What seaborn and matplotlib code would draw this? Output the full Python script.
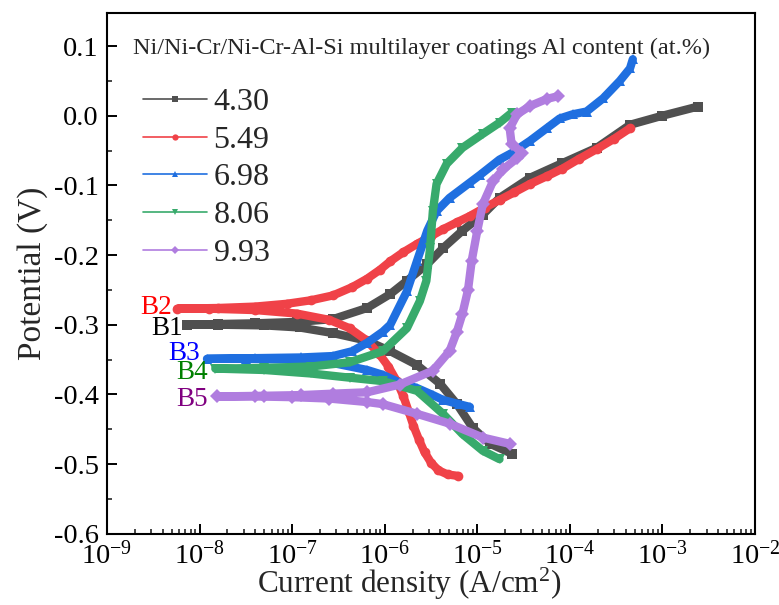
import numpy as np
import pandas as pd
import matplotlib
matplotlib.use("Agg")
import matplotlib.pyplot as plt
from matplotlib.lines import Line2D
from matplotlib.ticker import MultipleLocator, FuncFormatter, LogLocator, LogFormatterMathtext
import seaborn as sns

# Al content (at.%) of each coating and its sample tag
al_content = ["4.30", "5.49", "6.98", "8.06", "9.93"]
sample_tags = ["B1", "B2", "B3", "B4", "B5"]

# Potentiodynamic polarization curves: log10 of |current density| (A/cm^2) and potential (V),
# scanned from the cathodic end through Ecorr to the anodic end
b1_logi = [-4.63, -4.86, -5.05, -5.22, -5.40, -5.65, -5.94, -6.19, -6.56, -6.92, -7.30, -7.80, -8.14,
           -7.80, -7.40, -6.95, -6.56, -6.19, -5.94, -5.76, -5.54, -5.37, -5.16, -4.94, -4.76,
           -4.43, -4.08, -3.71, -3.35, -3.00, -2.62]
b1_pot = [-0.485, -0.471, -0.448, -0.414, -0.385, -0.358, -0.338, -0.323, -0.312, -0.304, -0.301, -0.300, -0.300,
          -0.299, -0.298, -0.296, -0.292, -0.276, -0.256, -0.237, -0.213, -0.190, -0.165, -0.142, -0.118,
          -0.089, -0.068, -0.046, -0.013, 0.000, 0.013]

b2_logi = [-5.21, -5.32, -5.42, -5.50, -5.57, -5.63, -5.69, -5.74, -5.80, -5.87, -5.96, -6.06, -6.20, -6.38,
           -6.60, -6.95, -7.40, -7.90, -8.24,
           -7.80, -7.40, -7.06, -6.80, -6.56, -6.35, -6.19, -6.05, -5.94, -5.80, -5.65, -5.50, -5.37,
           -5.22, -5.08, -4.92, -4.76, -4.60, -4.43, -4.25, -4.08, -3.90, -3.71, -3.52, -3.35]
b2_pot = [-0.517, -0.515, -0.509, -0.498, -0.483, -0.465, -0.445, -0.425, -0.402, -0.381, -0.360, -0.342, -0.322,
          -0.305, -0.293, -0.284, -0.279, -0.277, -0.277,
          -0.276, -0.274, -0.270, -0.265, -0.258, -0.246, -0.234, -0.221, -0.209, -0.196, -0.184, -0.173,
          -0.163, -0.153, -0.144, -0.132, -0.121, -0.110, -0.098, -0.087, -0.076, -0.062, -0.048, -0.033, -0.018]

b3_logi = [-5.08, -5.20, -5.37, -5.48, -5.65, -5.84, -6.02, -6.19, -6.56, -7.00, -7.50, -7.92,
           -7.40, -6.90, -6.56, -6.35, -6.19, -6.02, -5.94, -5.76, -5.65, -5.54, -5.44, -5.30, -5.08,
           -4.97, -4.76, -4.62, -4.43, -4.25, -4.11, -3.97, -3.82, -3.64, -3.46, -3.35, -3.32]
b3_pot = [-0.418, -0.414, -0.408, -0.401, -0.391, -0.383, -0.372, -0.365, -0.355, -0.350, -0.349, -0.349,
          -0.348, -0.347, -0.345, -0.338, -0.326, -0.310, -0.300, -0.252, -0.208, -0.165, -0.137, -0.118,
          -0.096, -0.085, -0.063, -0.053, -0.036, -0.018, -0.004, 0.002, 0.006, 0.025, 0.050, 0.068, 0.081]

b4_logi = [-4.76, -4.94, -5.16, -5.37, -5.65, -6.02, -6.38, -6.80, -7.30, -7.83,
           -7.30, -6.80, -6.38, -6.02, -5.76, -5.62, -5.55, -5.51, -5.48, -5.44, -5.33, -5.16,
           -4.94, -4.76, -4.63]
b4_pot = [-0.493, -0.481, -0.457, -0.428, -0.395, -0.381, -0.376, -0.370, -0.365, -0.363,
          -0.362, -0.360, -0.354, -0.338, -0.305, -0.266, -0.237, -0.190, -0.137, -0.098, -0.069, -0.046,
          -0.026, -0.010, 0.004]

b5_logi = [-4.65, -4.94, -5.30, -5.65, -6.02, -6.19, -6.60, -7.00, -7.40, -7.81,
           -7.30, -6.90, -6.56, -6.19, -5.84, -5.48, -5.30, -5.22, -5.16, -5.10, -5.06, -5.00,
           -4.94, -4.83, -4.72, -4.57, -4.52, -4.63, -4.65, -4.57, -4.43, -4.25, -4.13]
b5_pot = [-0.471, -0.462, -0.442, -0.428, -0.414, -0.411, -0.406, -0.404, -0.403, -0.403,
          -0.402, -0.401, -0.399, -0.397, -0.386, -0.366, -0.338, -0.310, -0.284, -0.250, -0.208, -0.165,
          -0.127, -0.094, -0.077, -0.061, -0.053, -0.040, -0.018, 0.002, 0.014, 0.024, 0.028]

curves_logi = [b1_logi, b2_logi, b3_logi, b4_logi, b5_logi]
curves_pot = [b1_pot, b2_pot, b3_pot, b4_pot, b5_pot]

line_colors = ["#505050", "#f04248", "#1f6fe0", "#38aa6c", "#b07ddf"]
tag_colors = ["#000000", "#ff0000", "#0000ff", "#008000", "#800080"]
marker_shapes = ["s", "o", "^", "v", "D"]

# Sample tag positions next to each Ecorr plateau (log10 current, potential)
tag_logi = [-8.18, -8.30, -8.00, -7.91, -7.91]
tag_pot = [-0.305, -0.276, -0.341, -0.369, -0.408]

rows = []
for label, li, pot in zip(al_content, curves_logi, curves_pot):
    for k, (a, b) in enumerate(zip(li, pot)):
        rows.append({"Al content": label, "step": k, "current": 10.0 ** a, "potential": b})
df = pd.DataFrame(rows)

sns.set_theme(style="ticks")
plt.rcParams["font.family"] = ["Liberation Serif", "DejaVu Serif"]
plt.rcParams["mathtext.fontset"] = "custom"
plt.rcParams["mathtext.rm"] = "Liberation Serif"
plt.rcParams["mathtext.it"] = "Liberation Serif:italic"
plt.rcParams["mathtext.bf"] = "Liberation Serif:bold"
plt.rcParams["axes.unicode_minus"] = False

fig, ax = plt.subplots(figsize=(7.79, 6.05), dpi=100)
fig.subplots_adjust(left=107 / 779, right=755 / 779, bottom=1 - 533.7 / 605, top=1 - 13.3 / 605)
ax.set_xscale("log")

sns.lineplot(data=df, x="current", y="potential", hue="Al content", style="Al content",
             units="Al content", estimator=None, sort=False,
             palette=dict(zip(al_content, line_colors)),
             markers=dict(zip(al_content, marker_shapes)), dashes=False,
             lw=6, ms=7, markeredgewidth=0, legend=False, ax=ax)

ax.set_xlim(1e-9, 1e-2)
ax.set_ylim(-0.6, 0.147)

ax.xaxis.set_major_locator(LogLocator(base=10, numticks=12))
ax.xaxis.set_minor_locator(LogLocator(base=10, subs=np.arange(2, 10), numticks=12))
ax.xaxis.set_major_formatter(LogFormatterMathtext())
ax.yaxis.set_major_locator(MultipleLocator(0.1))
ax.yaxis.set_minor_locator(MultipleLocator(0.05))
ax.yaxis.set_major_formatter(FuncFormatter(lambda v, p: f"{round(v, 1) + 0.0:.1f}"))

ax.tick_params(which="major", direction="in", length=7, width=1.4, labelsize=20.5, pad=6,
               top=False, right=False, color="black", labelcolor="black")
ax.tick_params(which="minor", direction="in", length=3.5, width=1.2, top=False, right=False)
ax.tick_params(axis="x", which="major", pad=5)
for s in ax.spines.values():
    s.set_linewidth(1.5)
    s.set_color("black")

ax.set_xlabel("Current density (A/cm$^2$)", fontsize=22.5, labelpad=-2.5, x=0.466)
ax.set_ylabel("Potential (V)", fontsize=24, labelpad=4)

for tag, li, pot, col in zip(sample_tags, tag_logi, tag_pot, tag_colors):
    ax.text(10.0 ** li, pot, tag, color=col, fontsize=19.5, ha="right", va="center")

ax.text(0.04, 0.932, "Ni/Ni-Cr/Ni-Cr-Al-Si multilayer coatings Al content (at.%)",
        transform=ax.transAxes, fontsize=17.5, ha="left", va="center")

handles = [Line2D([], [], color=c, marker=m, lw=1.2, ms=4.5, markeredgewidth=0)
           for c, m in zip(line_colors, marker_shapes)]
ax.legend(handles, al_content, loc="upper left", bbox_to_anchor=(0.056, 0.857),
          frameon=False, fontsize=23, handlelength=2.0, handletextpad=0.2,
          labelspacing=0.26, borderaxespad=0, borderpad=0)

fig.savefig("out.png", dpi=100)
